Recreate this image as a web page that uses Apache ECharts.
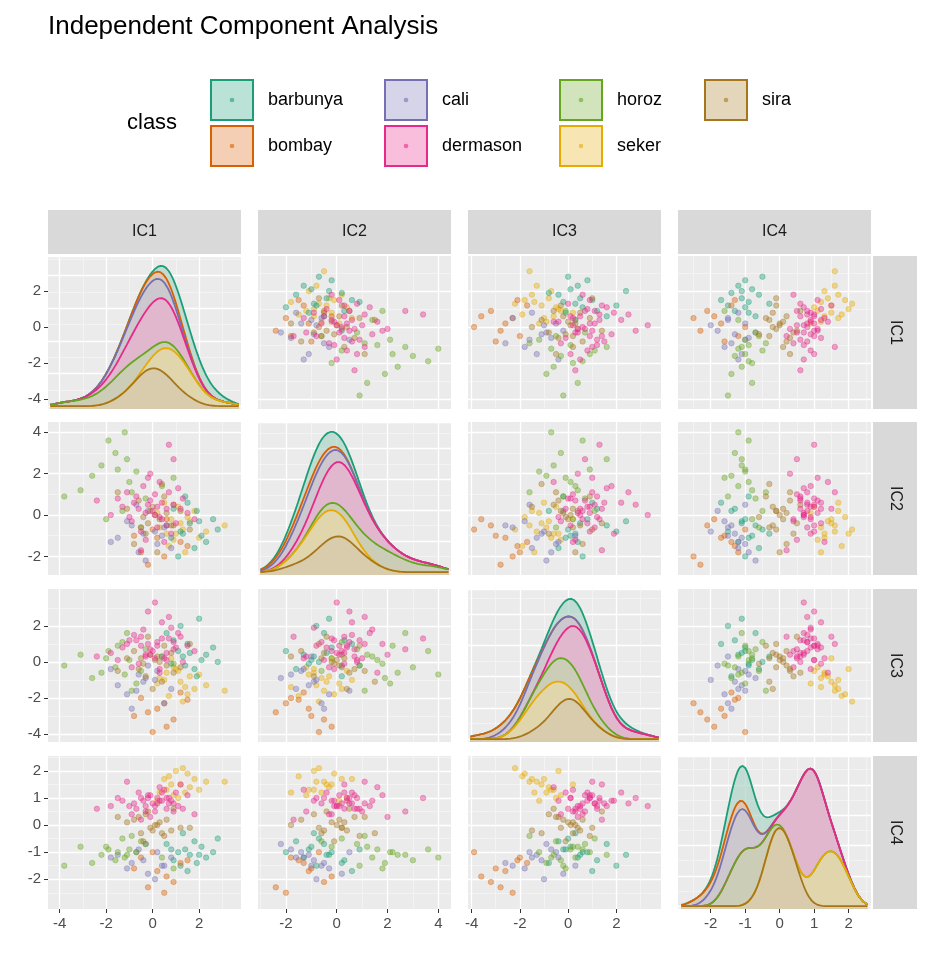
<!DOCTYPE html>
<html><head><meta charset="utf-8">
<script src="https://cdn.jsdelivr.net/npm/echarts@6/dist/echarts.min.js"></script>
<style>html,body{margin:0;padding:0;background:#fff}#c{width:932px;height:956px}</style>
</head><body><div id="c"></div>
<script>
const classes = ['barbunya','bombay','cali','dermason','horoz','seker','sira'];
const classCounts = {barbunya:1322,bombay:522,cali:1630,dermason:3546,horoz:1928,seker:2027,sira:2636};
const colors = {barbunya:'#1B9E77',bombay:'#D95F02',cali:'#7570B3',dermason:'#E7298A',horoz:'#66A61E',seker:'#E6AB02',sira:'#A6761D'};
const dims = ['IC1','IC2','IC3','IC4'];
const majorTicks = [[-4,-2,0,2],[-2,0,2,4],[-4,-2,0,2],[-2,-1,0,1,2]];
const xRange = [[-4.5,3.8],[-3.1,4.5],[-4.15,3.85],[-2.95,2.65]];
const yRange = [[-4.55,3.95],[-2.9,4.5],[-4.45,4.05],[-3.1,2.55]];
// points: [IC1, IC2, IC3, IC4]
const seker = [[1.2,-0.4,-1.1,1.5],[0.6,-0.9,-0.6,1.3],[1.8,0.2,-1.5,1.7],[0.9,-1.2,-0.3,1.1],[1.5,-0.1,-1.8,1.9],[0.3,-0.6,-0.9,1.2],[2.3,-0.8,-1.3,1.6],[1.1,0.4,-0.5,1.0],[0.7,-1.5,-1.9,1.8],[1.6,-0.3,-0.8,1.4],[0.2,0.1,-1.2,0.9],[1.3,-0.7,-2.2,2.1],[2.0,-1.1,-0.7,1.3],[0.8,-0.2,0.2,1.5],[1.4,-1.8,-1.4,1.2],[0.5,0.6,-1.0,1.7],[3.1,-0.5,-1.6,1.6],[1.0,-0.9,-0.4,2.0]];
const barbunya = [[1.6,-0.4,0.5,-1.1],[2.1,-1.0,0.1,-0.8],[0.9,0.3,1.2,-1.3],[1.8,-1.6,-0.4,-0.6],[2.6,-0.2,0.8,-1.0],[1.2,-0.8,2.0,-1.5],[1.4,0.9,-0.2,-0.9],[2.3,-1.3,0.4,-1.2],[0.6,-0.5,1.6,-0.7],[1.9,0.2,-0.8,-1.4],[1.1,-2.0,0.6,-1.0],[2.8,-0.7,0.0,-0.5],[1.5,0.6,1.0,-1.7],[0.8,-1.1,-0.1,-0.9],[2.0,-0.3,2.4,-1.1],[1.3,-0.9,0.3,-0.3]];
const bombay = [[0.2,-1.1,-2.6,-1.7],[0.9,-0.5,-3.2,-2.1],[-0.5,-1.8,-2.0,-1.2],[0.6,-0.2,-3.6,-1.9],[-0.2,-2.4,-2.8,-2.3],[1.2,-1.3,-1.7,-1.4],[0.0,-0.7,-3.9,-1.0],[0.5,-2.0,-2.3,-2.5],[-0.8,-1.0,-3.0,-1.6],[1.5,-1.5,-2.1,-1.3]];
const cali = [[-0.4,-0.9,-1.1,-1.3],[0.2,-1.4,-0.5,-1.0],[-1.1,-0.3,-1.8,-1.6],[-0.6,-1.8,-0.7,-0.9],[0.5,-0.6,-2.3,-1.5],[-1.5,-1.1,-1.3,-1.1],[-0.2,0.2,-0.2,-1.8],[0.8,-1.6,-1.5,-1.2],[-0.9,-0.5,-2.6,-1.4],[-0.3,-2.2,-0.9,-0.7],[0.1,-0.8,-1.0,-2.0],[-1.8,-1.3,-0.4,-1.2],[-0.7,0.5,-1.6,-1.0],[0.4,-1.0,0.3,-1.5]];
const horoz = [[-1.0,1.6,0.1,-0.9],[-2.2,2.4,-0.6,-1.1],[-0.3,0.8,0.7,-0.7],[-1.6,3.0,-0.3,-1.3],[-3.1,1.2,0.4,-0.8],[-0.7,2.1,-1.2,-1.0],[-1.3,0.2,1.1,-0.5],[-2.6,1.9,-0.9,-1.4],[0.4,1.4,0.3,-1.2],[-1.9,3.6,0.6,-0.9],[-0.5,-0.6,-0.5,-0.6],[-1.1,2.7,1.6,-1.1],[-3.8,0.9,-0.2,-1.5],[-0.9,1.1,-1.6,-0.4],[-1.5,2.2,0.9,-1.0],[0.9,1.8,-0.1,-1.6],[-2.0,-0.2,0.2,-0.8],[-1.2,4.0,-0.7,-1.2]];
const sira = [[0.1,0.0,0.1,0.0],[-0.6,0.7,-0.4,0.3],[0.8,-0.5,0.5,-0.2],[-0.3,-0.9,-0.8,0.4],[0.5,0.9,0.9,-0.4],[-1.1,0.3,0.2,0.1],[1.2,0.2,-0.3,-0.1],[-0.2,-0.4,1.4,0.5],[0.4,1.5,-1.1,-0.3],[-0.8,-1.4,0.6,0.2],[0.9,0.5,-0.6,0.6],[-0.4,-0.1,-0.1,-0.6],[0.2,-1.8,0.3,0.0],[1.6,-0.7,1.0,-0.1],[-1.5,1.1,-0.5,0.3],[0.0,0.4,-1.5,-0.2],[0.3,-0.2,0.0,0.1],[-0.1,0.2,0.4,-0.1],[0.6,0.1,-0.2,0.2],[-0.5,-0.6,0.2,-0.3]];
const dermason = [[0.0,0.2,0.6,0.8],[-0.7,0.9,1.2,0.6],[0.6,-0.5,0.1,1.0],[-1.3,0.4,0.8,0.9],[1.1,1.3,1.6,0.7],[-0.3,-1.2,0.3,0.5],[0.4,0.6,2.2,1.2],[-0.9,-0.3,-0.3,0.4],[1.5,0.1,0.9,1.1],[-0.1,2.0,0.4,0.3],[0.8,-0.9,1.9,0.9],[-1.8,0.0,0.5,0.7],[0.3,1.6,-0.6,1.4],[-0.5,-1.7,1.4,0.2],[1.3,0.8,0.0,0.6],[-0.2,0.5,2.8,1.0],[0.9,2.7,0.7,0.5],[-1.1,1.1,1.0,1.6],[0.2,-0.6,1.1,0.8],[-0.6,0.3,-0.1,1.2],[1.8,-0.2,0.6,0.4],[-0.4,1.4,1.8,0.9],[0.5,-1.3,0.2,1.3],[-2.4,0.7,0.3,0.6],[0.1,0.0,3.3,0.7],[0.7,3.4,1.3,1.0],
  [0.2,0.4,0.9,1.0],[-0.3,0.1,0.4,0.7],[0.4,-0.2,1.3,0.9],[-0.1,0.7,0.7,1.1],[0.6,0.3,0.5,0.6],[-0.8,0.6,1.5,0.8],[0.9,0.5,1.1,0.8],[-0.5,-0.8,0.9,1.0],[0.1,1.0,0.2,0.5],[1.0,-0.4,0.8,1.2],[-1.0,-0.1,1.2,0.7],[0.3,-0.1,-0.4,0.9],[-0.2,1.8,1.0,1.1],[0.7,1.1,2.5,0.8],[-1.5,0.8,0.1,1.0],[1.2,0.3,1.4,1.5]];
const points = {seker,barbunya,bombay,cali,horoz,sira,dermason};
const drawOrder = ['seker','barbunya','bombay','cali','horoz','sira','dermason'];
const stackOrder = ['sira','seker','horoz','dermason','cali','bombay','barbunya'];

const colL=[48,258,468,678], W=193, rowT=[256,422,589,756], H=153;
const font='Liberation Sans, Arial, sans-serif';
function alpha(hex,a){const n=parseInt(hex.slice(1),16);return `rgba(${n>>16},${(n>>8)&255},${n&255},${a})`;}
function blend(hex,a){const n=parseInt(hex.slice(1),16);const b=235;const f=v=>Math.round(v*a+b*(1-a));return `rgb(${f(n>>16)},${f((n>>8)&255)},${f(n&255)})`;}
function minors(t,r){const out=[];const st=t[1]-t[0];for(let v=t[0]-st/2;v<=r[1];v+=st) if(v>=r[0]) out.push(v);return out;}
const noLine={show:true,onZero:false,lineStyle:{color:'rgba(0,0,0,0)',width:0}};

const grids=[],xAxis=[],yAxis=[],series=[];
function kde(vals,bw,x){let s=0;for(const v of vals){const u=(x-v)/bw;s+=Math.exp(-0.5*u*u);}return s/(vals.length*bw*Math.sqrt(2*Math.PI));}
const bws=[0.5,0.5,0.45,0.25];

for(let r=0;r<4;r++)for(let c=0;c<4;c++){
  const g=grids.length;
  grids.push({left:colL[c],top:rowT[r],width:W,height:H,backgroundColor:'#EBEBEB',show:true,borderWidth:0});
  const xi=xAxis.length;
  xAxis.push({type:'value',gridIndex:g,position:'bottom',min:xRange[c][0],max:xRange[c][1],
    axisLine:noLine,axisTick:{show:r===3,length:4,lineStyle:{color:'#333'},customValues:majorTicks[c]},
    axisLabel:{show:r===3,customValues:majorTicks[c],color:'#4D4D4D',fontSize:15,fontFamily:font,margin:7},
    splitLine:{show:true,lineStyle:{color:'#fff',width:1.3}}});
  xAxis.push({type:'value',gridIndex:g,position:'bottom',min:xRange[c][0],max:xRange[c][1],axisLine:{show:false,onZero:false},
    axisTick:{show:false,customValues:minors(majorTicks[c],xRange[c])},axisLabel:{show:false,customValues:minors(majorTicks[c],xRange[c])},
    splitLine:{show:true,lineStyle:{color:'#F7F7F7',width:0.7}}});
  const yi=yAxis.length;
  yAxis.push({type:'value',gridIndex:g,position:'left',min:yRange[r][0],max:yRange[r][1],
    axisLine:noLine,axisTick:{show:c===0,length:4,lineStyle:{color:'#333'},customValues:majorTicks[r]},
    axisLabel:{show:c===0,customValues:majorTicks[r],color:'#4D4D4D',fontSize:15,fontFamily:font,margin:7},
    splitLine:{show:r!==c,lineStyle:{color:'#fff',width:1.3}}});
  yAxis.push({type:'value',gridIndex:g,position:'left',min:yRange[r][0],max:yRange[r][1],axisLine:{show:false,onZero:false},
    axisTick:{show:false,customValues:minors(majorTicks[r],yRange[r])},axisLabel:{show:false,customValues:minors(majorTicks[r],yRange[r])},
    splitLine:{show:r!==c,lineStyle:{color:'#F7F7F7',width:0.7}}});
  if(r!==c){
    for(const k of drawOrder){
      series.push({type:'scatter',xAxisIndex:xi,yAxisIndex:yi,symbolSize:5.5,silent:true,
        data:points[k].map(p=>[p[c],p[r]]),
        itemStyle:{color:alpha(colors[k],0.5),borderColor:alpha(colors[k],0.7),borderWidth:0.6}});
    }
  } else {
    const di=yAxis.length;
    const xs=[];const n=140;for(let i=0;i<=n;i++)xs.push(xRange[c][0]+0.1+(xRange[c][1]-xRange[c][0]-0.2)*i/n);
    const cum={};let tot=xs.map(()=>0);
    for(const k of stackOrder){const w=classCounts[k];const d=xs.map(x=>w*kde(points[k].map(p=>p[c]),bws[c],x));tot=tot.map((v,i)=>v+d[i]);cum[k]=tot.slice();}
    const mx=Math.max(...tot);
    yAxis.push({type:'value',gridIndex:g,position:'right',min:-mx*0.02,max:mx*1.07,splitNumber:6,axisLine:{show:false,onZero:false},axisTick:{show:false},axisLabel:{show:false},
      splitLine:{show:true,lineStyle:{color:'#fff',width:1.3}},minorTick:{show:false,splitNumber:2},minorSplitLine:{show:true,lineStyle:{color:'#F7F7F7',width:0.7}}});
    [...stackOrder].reverse().forEach(k=>{
      series.push({type:'line',xAxisIndex:xi,yAxisIndex:di,symbol:'none',silent:true,
        data:xs.map((x,i)=>[x,cum[k][i]]),
        lineStyle:{color:colors[k],width:1.8},areaStyle:{color:blend(colors[k],0.3),origin:'start'}});
    });
  }
}

const graphic=[];
graphic.push({type:'text',left:48,top:14,style:{text:'Independent Component Analysis',fontSize:26,fontFamily:font,fill:'#000'}});
graphic.push({type:'text',left:127,top:112,style:{text:'class',fontSize:22,fontFamily:font,fill:'#000'}});
const legCols=[[ 'barbunya','bombay'],['cali','dermason'],['horoz','seker'],['sira']];
const keyX=[210,384,559,704];
legCols.forEach((col,ci)=>col.forEach((k,ri)=>{
  const y=ri===0?79:125;
  graphic.push({type:'rect',shape:{x:keyX[ci]+1,y:y+1,width:42,height:40},style:{fill:alpha(colors[k],0.3),stroke:colors[k],lineWidth:2}});
  graphic.push({type:'circle',shape:{cx:keyX[ci]+22,cy:y+21,r:2.3},style:{fill:alpha(colors[k],0.6)}});
  graphic.push({type:'text',x:keyX[ci]+58,y:y+21,style:{text:k,fontSize:18,fontFamily:font,fill:'#000',verticalAlign:'middle'}});
}));
for(let c=0;c<4;c++){
  graphic.push({type:'rect',shape:{x:colL[c],y:210,width:W,height:44},style:{fill:'#D9D9D9'}});
  graphic.push({type:'text',x:colL[c]+W/2,y:232,style:{text:dims[c],fontSize:16,fontFamily:font,fill:'#1A1A1A',align:'center',verticalAlign:'middle'}});
}
for(let r=0;r<4;r++){
  graphic.push({type:'rect',shape:{x:873,y:rowT[r],width:44,height:H},style:{fill:'#D9D9D9'}});
  graphic.push({type:'text',x:895,y:rowT[r]+H/2,rotation:-Math.PI/2,style:{text:dims[r],fontSize:16,fontFamily:font,fill:'#1A1A1A',align:'center',verticalAlign:'middle'}});
}

const chart=echarts.init(document.getElementById('c'),null,{renderer:'canvas'});
chart.setOption({animation:false,grid:grids,xAxis,yAxis,series,graphic});
</script></body></html>
